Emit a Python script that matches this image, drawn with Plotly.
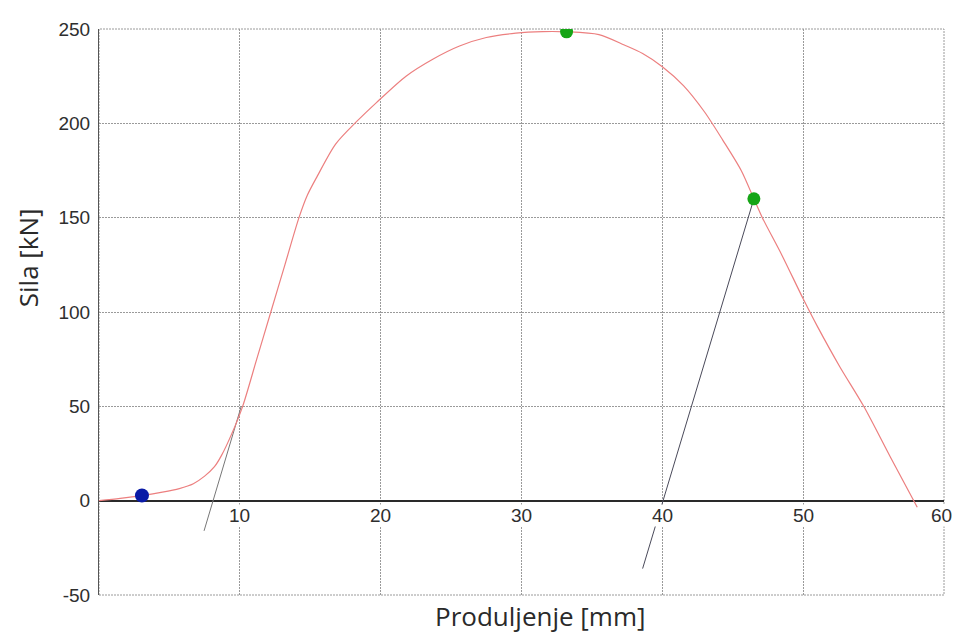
#!/usr/bin/env python
# -*- coding: utf-8 -*-
"""
Dijagram sila - produljenje (kidalica)
"""

import plotly.graph_objects as go

# krivulja sila - produljenje (ocitano s dijagrama)
produljenje = [0, 1.5, 3.05, 4.5, 5.7, 6.7, 7.5, 8.2, 8.7, 9.4, 10.2, 11.2, 12.2, 13.2,
               14.2, 14.8, 15.5, 16.8, 18.3, 19.7, 21.8, 23.7, 25.6, 27.5, 29.6, 31.5,
               33.2, 35.5, 37.3, 38.6, 40.0, 41.5, 43.0, 44.3, 45.6, 46.5, 47.1, 48.5,
               50.0, 51.0, 52.6, 54.3, 56.2, 58.1]
sila = [0, 1.2, 2.7, 4.5, 6.4, 9, 13, 18, 24, 35, 50, 75, 100, 125,
        150, 162, 172, 189, 201, 211, 225, 234, 241, 245.5, 247.8, 248.6,
        248.5, 247, 241.5, 237, 230, 220, 206, 191, 175, 160, 150, 130,
        107, 92.5, 71, 50, 23, -3.5]

# karakteristicne tocke
tocka_plava_x = [3.05]
tocka_plava_y = [2.7]
tocke_zelene_x = [33.2, 46.5]
tocke_zelene_y = [248.5, 160]

# tangente
tangenta1_x = [7.46, 10.1]
tangenta1_y = [-16, 50]
tangenta2_x = [38.6, 46.5]
tangenta2_y = [-36, 160]

x_oznake = [10, 20, 30, 40, 50, 60]
y_oznake = [-50, 0, 50, 100, 150, 200, 250]
y_tekst = ['-50', '0', '50', '100', '150', '200', '250']

mreza = dict(color='#9a9a9a', dash='2px,1px', width=1)
naslov_font = dict(family='Open Sans', size=26, color='#2a2a2a')

fig = go.Figure()

fig.add_trace(go.Scatter(x=tangenta1_x, y=tangenta1_y, mode='lines',
                         line=dict(color='#777777', width=1)))
fig.add_trace(go.Scatter(x=tangenta2_x, y=tangenta2_y, mode='lines',
                         line=dict(color='#4a4a5a', width=1)))

fig.add_trace(go.Scatter(x=produljenje, y=sila, mode='lines',
                         line=dict(color='#ec7f7f', width=1.2, shape='spline', smoothing=0.8)))

fig.add_trace(go.Scatter(x=tocka_plava_x, y=tocka_plava_y, mode='markers',
                         marker=dict(color='#0a1aa6', size=14)))
fig.add_trace(go.Scatter(x=tocke_zelene_x, y=tocke_zelene_y, mode='markers',
                         marker=dict(color='#16a516', size=13)))

# oznake x osi uz nul-liniju
for v in x_oznake:
    fig.add_annotation(x=v, y=0, xref='x', yref='y', text=str(v), showarrow=False,
                       yanchor='top', yshift=-3, xshift=-3 if v == 60 else 0,
                       bgcolor='white', borderpad=0,
                       font=dict(family='Liberation Sans, Arial', size=19, color='#2e2e2e'))

# naslovi osi
fig.add_annotation(text='Produljenje [mm]', xref='paper', yref='paper', x=0.523, y=0,
                   yanchor='middle', yshift=-21, showarrow=False, borderpad=0,
                   font=naslov_font)
fig.add_annotation(text='Sila [kN]', xref='paper', yref='paper', x=0, y=0.595,
                   xanchor='center', xshift=-71, textangle=-90, showarrow=False,
                   font=naslov_font)

# okvir (tockasto gore, desno i dolje)
fig.add_shape(type='rect', xref='paper', yref='paper', x0=0, y0=0, x1=1, y1=1,
              line=mreza, layer='below')

fig.update_layout(
    width=958, height=635,
    margin=dict(l=99, r=14, t=29, b=40),
    paper_bgcolor='white', plot_bgcolor='white',
    showlegend=False,
    xaxis=dict(
        range=[0, 60], tickvals=x_oznake, showticklabels=False,
        showgrid=True, gridcolor=mreza['color'], griddash=mreza['dash'], gridwidth=1,
        zeroline=False, showline=False, automargin=False,
    ),
    yaxis=dict(
        range=[-50, 250], tickvals=y_oznake, ticktext=y_tekst,
        showgrid=True, gridcolor=mreza['color'], griddash=mreza['dash'], gridwidth=1,
        zeroline=True, zerolinecolor='#2a2a2a', zerolinewidth=1.6,
        showline=True, linecolor='#555555', linewidth=1.2,
        ticks='', ticklabelstandoff=4, automargin=False,
        tickfont=dict(family='Liberation Sans, Arial', size=19, color='#2e2e2e'),
    ),
)

# bez margine body elementa, da slika popuni prozor
fig.write_html("out.html", config={'displayModeBar': False},
               post_script="document.body.style.margin='0';")
